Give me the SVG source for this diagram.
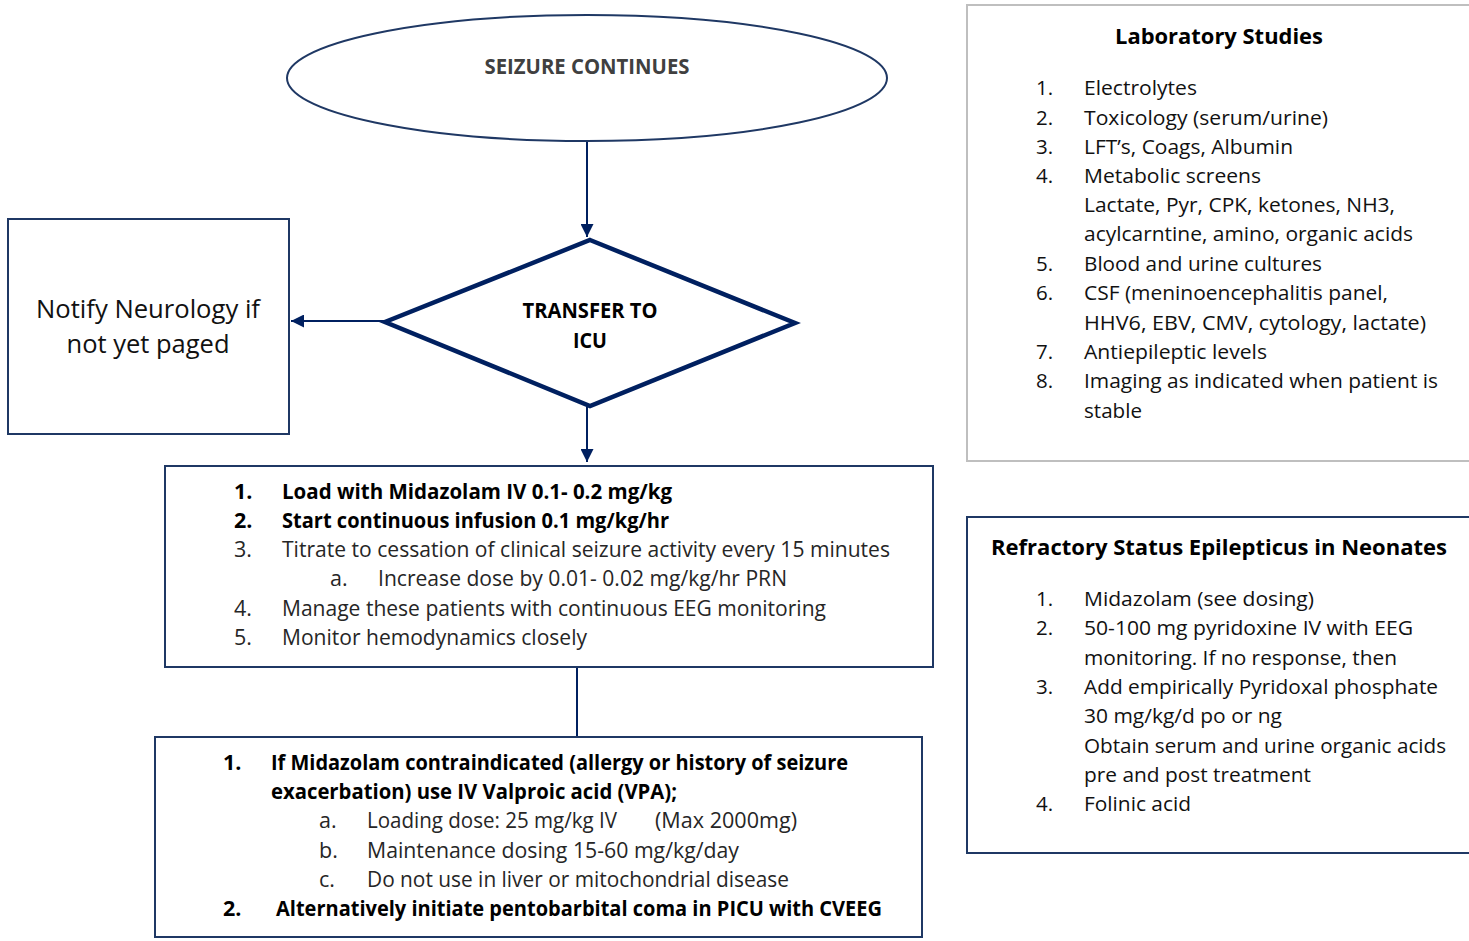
<svg xmlns="http://www.w3.org/2000/svg" width="1469" height="941" viewBox="0 0 1469 941">
<style>
text{font-family:"Open Sans","Liberation Sans",sans-serif;}
.t{font-size:21.5px;fill:#262626;}
.b{font-size:21.5px;font-weight:bold;fill:#000;}
.r{font-size:20.5px;fill:#111;}
.rb{font-size:21px;font-weight:bold;fill:#000;}
.box{fill:#fff;stroke:#1F3864;stroke-width:2;}
.conn{stroke:#002060;stroke-width:2;fill:none;}
</style>
<defs>
<marker id="ah" viewBox="0 0 12 12" refX="12" refY="6" markerWidth="13" markerHeight="13" markerUnits="userSpaceOnUse" orient="auto">
<path d="M0,0 L12,6 L0,12 z" fill="#002060"/>
</marker>
</defs>
<rect width="1469" height="941" fill="#fff"/>

<g id="connectors">
<line class="conn" x1="587" y1="142" x2="587" y2="237" marker-end="url(#ah)"/>
<line class="conn" x1="385" y1="321" x2="291" y2="321" marker-end="url(#ah)"/>
<line class="conn" x1="587" y1="407" x2="587" y2="462" marker-end="url(#ah)"/>
<line class="conn" x1="577" y1="660" x2="577" y2="737" stroke-width="3.5"/>
</g>

<g id="seizure-continues">
<ellipse cx="587" cy="78" rx="300" ry="63" fill="#fff" stroke="#1F3864" stroke-width="2"/>
<text x="587" y="74" text-anchor="middle" font-size="21" font-weight="bold" fill="#404040" textLength="205" lengthAdjust="spacingAndGlyphs">SEIZURE CONTINUES</text>
</g>

<g id="transfer-icu">
<polygon points="590,240 795,323 590,406 385,322" fill="#fff" stroke="#002060" stroke-width="4.5" stroke-linejoin="miter"/>
<text x="590" y="318" text-anchor="middle" class="b" textLength="135" lengthAdjust="spacingAndGlyphs">TRANSFER TO</text>
<text x="590" y="348" text-anchor="middle" class="b" textLength="34" lengthAdjust="spacingAndGlyphs">ICU</text>
</g>

<g id="notify-neurology">
<rect class="box" x="8" y="219" width="281" height="215"/>
<text x="148" y="318" text-anchor="middle" font-size="25.5" fill="#111" textLength="224" lengthAdjust="spacingAndGlyphs">Notify Neurology if</text>
<text x="148" y="353" text-anchor="middle" font-size="25.5" fill="#111" textLength="163" lengthAdjust="spacingAndGlyphs">not yet paged</text>
</g>

<g id="midazolam-box">
<rect class="box" x="165" y="466" width="768" height="201"/>
<text x="234" y="499" class="b">1.</text>
<text x="282" y="499" class="b" textLength="390" lengthAdjust="spacingAndGlyphs">Load with Midazolam IV 0.1- 0.2 mg/kg</text>
<text x="234" y="528" class="b">2.</text>
<text x="282" y="528" class="b" textLength="387" lengthAdjust="spacingAndGlyphs">Start continuous infusion 0.1 mg/kg/hr</text>
<text x="234" y="557" class="t">3.</text>
<text x="282" y="557" class="t" textLength="608" lengthAdjust="spacingAndGlyphs">Titrate to cessation of clinical seizure activity every 15 minutes</text>
<text x="330" y="586" class="t">a.</text>
<text x="378" y="586" class="t" textLength="409" lengthAdjust="spacingAndGlyphs">Increase dose by 0.01- 0.02 mg/kg/hr PRN</text>
<text x="234" y="616" class="t">4.</text>
<text x="282" y="616" class="t" textLength="544" lengthAdjust="spacingAndGlyphs">Manage these patients with continuous EEG monitoring</text>
<text x="234" y="645" class="t">5.</text>
<text x="282" y="645" class="t" textLength="305" lengthAdjust="spacingAndGlyphs">Monitor hemodynamics closely</text>
</g>

<g id="valproic-box">
<rect class="box" x="155" y="737" width="767" height="200"/>
<text x="223" y="770" class="b">1.</text>
<text x="271" y="770" class="b" textLength="577" lengthAdjust="spacingAndGlyphs">If Midazolam contraindicated (allergy or history of seizure</text>
<text x="271" y="799" class="b" textLength="406" lengthAdjust="spacingAndGlyphs">exacerbation) use IV Valproic acid (VPA);</text>
<text x="319" y="828" class="t">a.</text>
<text x="367" y="828" class="t" textLength="250" lengthAdjust="spacingAndGlyphs">Loading dose: 25 mg/kg IV</text>
<text x="655" y="828" class="t" textLength="142" lengthAdjust="spacingAndGlyphs">(Max 2000mg)</text>
<text x="319" y="858" class="t">b.</text>
<text x="367" y="858" class="t" textLength="372" lengthAdjust="spacingAndGlyphs">Maintenance dosing 15-60 mg/kg/day</text>
<text x="319" y="887" class="t">c.</text>
<text x="367" y="887" class="t" textLength="422" lengthAdjust="spacingAndGlyphs">Do not use in liver or mitochondrial disease</text>
<text x="223" y="916" class="b">2.</text>
<text x="276" y="916" class="b" textLength="606" lengthAdjust="spacingAndGlyphs">Alternatively initiate pentobarbital coma in PICU with CVEEG</text>
</g>

<g id="laboratory-studies">
<rect x="967" y="5" width="520" height="456" fill="#fff" stroke="#BFBFBF" stroke-width="2"/>
<text x="1219" y="44" text-anchor="middle" class="rb" textLength="208" lengthAdjust="spacingAndGlyphs">Laboratory Studies</text>
<text x="1036" y="95" class="r">1.</text>
<text x="1084" y="95" class="r" textLength="113" lengthAdjust="spacingAndGlyphs">Electrolytes</text>
<text x="1036" y="125" class="r">2.</text>
<text x="1084" y="125" class="r" textLength="244" lengthAdjust="spacingAndGlyphs">Toxicology (serum/urine)</text>
<text x="1036" y="154" class="r">3.</text>
<text x="1084" y="154" class="r" textLength="209" lengthAdjust="spacingAndGlyphs">LFT’s, Coags, Albumin</text>
<text x="1036" y="183" class="r">4.</text>
<text x="1084" y="183" class="r" textLength="177" lengthAdjust="spacingAndGlyphs">Metabolic screens</text>
<text x="1084" y="212" class="r" textLength="311" lengthAdjust="spacingAndGlyphs">Lactate, Pyr, CPK, ketones, NH3,</text>
<text x="1084" y="241" class="r" textLength="329" lengthAdjust="spacingAndGlyphs">acylcarntine, amino, organic acids</text>
<text x="1036" y="271" class="r">5.</text>
<text x="1084" y="271" class="r" textLength="238" lengthAdjust="spacingAndGlyphs">Blood and urine cultures</text>
<text x="1036" y="300" class="r">6.</text>
<text x="1084" y="300" class="r" textLength="304" lengthAdjust="spacingAndGlyphs">CSF (meninoencephalitis panel,</text>
<text x="1084" y="330" class="r" textLength="342" lengthAdjust="spacingAndGlyphs">HHV6, EBV, CMV, cytology, lactate)</text>
<text x="1036" y="359" class="r">7.</text>
<text x="1084" y="359" class="r" textLength="183" lengthAdjust="spacingAndGlyphs">Antiepileptic levels</text>
<text x="1036" y="388" class="r">8.</text>
<text x="1084" y="388" class="r" textLength="354" lengthAdjust="spacingAndGlyphs">Imaging as indicated when patient is</text>
<text x="1084" y="418" class="r" textLength="58" lengthAdjust="spacingAndGlyphs">stable</text>
</g>

<g id="refractory-neonates">
<rect class="box" x="967" y="517" width="520" height="336"/>
<text x="991" y="555" class="rb" textLength="456" lengthAdjust="spacingAndGlyphs">Refractory Status Epilepticus in Neonates</text>
<text x="1036" y="606" class="r">1.</text>
<text x="1084" y="606" class="r" textLength="230" lengthAdjust="spacingAndGlyphs">Midazolam (see dosing)</text>
<text x="1036" y="635" class="r">2.</text>
<text x="1084" y="635" class="r" textLength="329" lengthAdjust="spacingAndGlyphs">50-100 mg pyridoxine IV with EEG</text>
<text x="1084" y="665" class="r" textLength="313" lengthAdjust="spacingAndGlyphs">monitoring. If no response, then</text>
<text x="1036" y="694" class="r">3.</text>
<text x="1084" y="694" class="r" textLength="354" lengthAdjust="spacingAndGlyphs">Add empirically Pyridoxal phosphate</text>
<text x="1084" y="723" class="r" textLength="198" lengthAdjust="spacingAndGlyphs">30 mg/kg/d po or ng</text>
<text x="1084" y="753" class="r" textLength="362" lengthAdjust="spacingAndGlyphs">Obtain serum and urine organic acids</text>
<text x="1084" y="782" class="r" textLength="227" lengthAdjust="spacingAndGlyphs">pre and post treatment</text>
<text x="1036" y="811" class="r">4.</text>
<text x="1084" y="811" class="r" textLength="107" lengthAdjust="spacingAndGlyphs">Folinic acid</text>
</g>
</svg>
